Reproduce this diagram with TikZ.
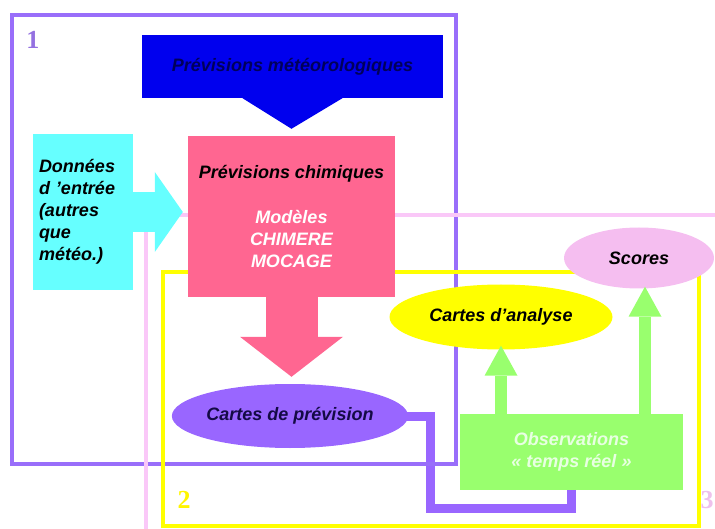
\documentclass[tikz,border=0pt]{standalone}
\usepackage{fontspec}
\setmainfont{Liberation Serif}
\setsansfont{Liberation Sans}
\usetikzlibrary{arrows.meta,shapes.geometric,calc,backgrounds}

\definecolor{zoneone}{RGB}{153,110,250}
\definecolor{zonetwo}{RGB}{255,255,0}
\definecolor{zonethree}{RGB}{250,200,248}
\definecolor{meteoblue}{RGB}{0,0,238}
\definecolor{meteotext}{RGB}{0,0,90}
\definecolor{entreecyan}{RGB}{102,255,255}
\definecolor{chimpink}{RGB}{255,102,145}
\definecolor{prevpurple}{RGB}{153,102,255}
\definecolor{prevtext}{RGB}{20,10,70}
\definecolor{scorespink}{RGB}{245,190,240}
\definecolor{obsgreen}{RGB}{153,255,110}
\definecolor{obstext}{RGB}{232,255,226}

\tikzset{
	zone/.style={line width=4.5pt},
	zonelabel/.style={inner sep=0pt, font=\rmfamily\bfseries\fontsize{26}{26}\selectfont},
	box/.style={rectangle, inner sep=0pt, font=\sffamily\bfseries\itshape\fontsize{18}{22}\selectfont},
	oval/.style={ellipse, inner sep=0pt, font=\sffamily\bfseries\itshape\fontsize{18}{22}\selectfont}
}

\begin{document}
\begin{tikzpicture}[x=1pt,y=-1pt]
	
	\useasboundingbox (0,0) rectangle (715,529);
	\clip (0,0) rectangle (715,529);
	
	% The three zones and their numbers
	\draw [zone,zoneone] (12,15) rectangle (456,464);
	\draw [zone,zonethree,line width=4pt] (146,215) rectangle (740,560);
	\draw [zone,zonetwo,line width=4pt] (163,272) rectangle (699,526);
	\node [zonelabel,text=zoneone!80!gray] (lone) at (33,40) {1};
	\node [zonelabel,text=zonetwo!92!orange] (ltwo) at (184,500) {2};
	\node [zonelabel,text=zonethree!90!gray] (lthree) at (707,500) {3};
	
	% The boxes
	\node [box,fill=meteoblue,text=meteotext,minimum width=301pt,minimum height=63pt]
	      (meteo) at (292.5,66.5)
	      {Prévisions météorologiques}
	      ;
	\node [box,fill=entreecyan,minimum width=100pt,minimum height=156pt,text width=88pt,align=left]
	      (entree) at (83,212)
	      {Données\\d 'entrée\\(autres\\que\\météo.)}
	      ;
	\node [box,fill=chimpink,minimum width=207pt,minimum height=161pt,align=center]
	      (chim) at (291.5,216.5)
	      {Prévisions chimiques\\[23pt]\textcolor{white}{Modèles}\\\textcolor{white}{CHIMERE}\\\textcolor{white}{MOCAGE}}
	      ;
	\node [box,fill=obsgreen,text=obstext,minimum width=223pt,minimum height=76pt,align=center]
	      (obs) at (571.5,452)
	      {Observations\\« temps réel »}
	      ;
	
	% The maps and the scores
	\node [oval,fill=prevpurple,text=prevtext,minimum width=230pt,minimum height=64pt]
	      (prev) at (290,416) {Cartes de prévision};
	\node [oval,fill=zonetwo,minimum width=223pt,minimum height=65pt]
	      (ana) at (501,317) {Cartes d’analyse};
	\node [oval,fill=scorespink,minimum width=150pt,minimum height=61pt]
	      (scores) at (639,258) {Scores};
	
	% Link from the forecast maps to the observations
	\begin{scope}[on background layer]
		\coordinate (bend) at (430,508);
		\draw [line width=9pt,prevpurple] ([xshift=-20pt]prev.east) -| (bend) -| (obs.south);
	\end{scope}
	
	% The fat arrows
	\fill [meteoblue] ([xshift=-50pt]meteo.south) -- ([xshift=50pt]meteo.south)
	      -- ([yshift=7pt]chim.north) -- cycle;
	\draw [line width=40pt,entreecyan,-{Triangle[length=28pt,width=80pt,line width=0pt]}]
	      (entree.east) -- ([xshift=-5pt]entree.east -| chim.west);
	\draw [line width=52pt,chimpink,-{Triangle[length=40pt,width=103pt,line width=0pt]}]
	      (chim.south) -- ([yshift=7pt]prev.north -| chim.south);
	\foreach \tgt/\dx/\dy in {ana/0/4,scores/6/2}{
		\draw [line width=12pt,obsgreen,-{Triangle[length=30pt,width=33pt,line width=0pt]}]
		      ([xshift=\dx pt]\tgt.south |- obs.north) -- ([xshift=\dx pt,yshift=\dy pt]\tgt.south);
	}
	
\end{tikzpicture}
\end{document}
